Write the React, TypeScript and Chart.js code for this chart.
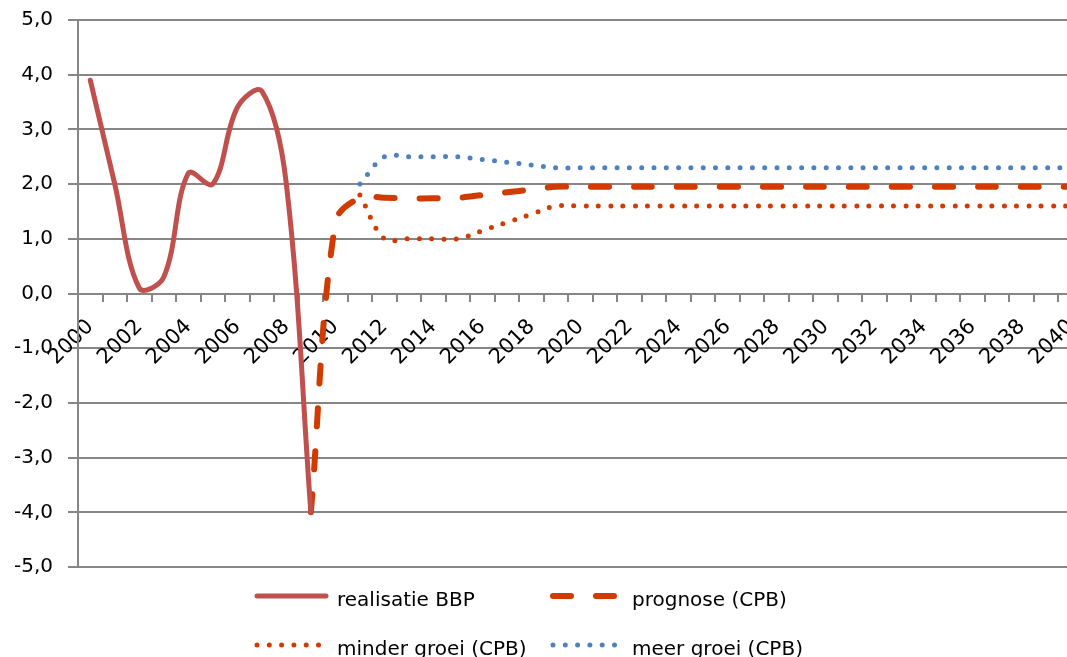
import { useEffect, useRef } from 'react';
import { Chart, registerables } from 'chart.js';

Chart.register(...registerables);

const years = [
  '2000', '2001', '2002', '2003', '2004', '2005', '2006', '2007', '2008', '2009',
  '2010', '2011', '2012', '2013', '2014', '2015', '2016', '2017', '2018', '2019',
  '2020', '2021', '2022', '2023', '2024', '2025', '2026', '2027', '2028', '2029',
  '2030', '2031', '2032', '2033', '2034', '2035', '2036', '2037', '2038', '2039', '2040',
];

const realisatieBBP = [
  3.9, 2.0, 0.1, 0.3, 2.2, 2.0, 3.4, 3.7, 2.0, -4.0,
  null, null, null, null, null, null, null, null, null, null,
  null, null, null, null, null, null, null, null, null, null,
  null, null, null, null, null, null, null, null, null, null, null,
];

const prognoseCPB = [
  null, null, null, null, null, null, null, null, null, -4.0,
  1.3, 1.75, 1.75, 1.74, 1.74, 1.75, 1.8, 1.85, 1.9, 1.95,
  1.95, 1.95, 1.95, 1.95, 1.95, 1.95, 1.95, 1.95, 1.95, 1.95,
  1.95, 1.95, 1.95, 1.95, 1.95, 1.95, 1.95, 1.95, 1.95, 1.95, 1.95,
];

const minderGroeiCPB = [
  null, null, null, null, null, null, null, null, null, null,
  null, 1.8, 1.0, 1.0, 1.0, 1.0, 1.15, 1.3, 1.45, 1.6,
  1.6, 1.6, 1.6, 1.6, 1.6, 1.6, 1.6, 1.6, 1.6, 1.6,
  1.6, 1.6, 1.6, 1.6, 1.6, 1.6, 1.6, 1.6, 1.6, 1.6, 1.6,
];

const meerGroeiCPB = [
  null, null, null, null, null, null, null, null, null, null,
  null, 2.0, 2.5, 2.5, 2.5, 2.5, 2.45, 2.4, 2.35, 2.3,
  2.3, 2.3, 2.3, 2.3, 2.3, 2.3, 2.3, 2.3, 2.3, 2.3,
  2.3, 2.3, 2.3, 2.3, 2.3, 2.3, 2.3, 2.3, 2.3, 2.3, 2.3,
];

const seriesNames = ['realisatie BBP', 'prognose (CPB)', 'minder groei (CPB)', 'meer groei (CPB)'];

const GRID = '#868686';
const FONT = 'DejaVu Sans';

const gridLegend = {
  id: 'gridLegend',
  afterDraw(chart: any) {
    const ctx = chart.ctx;
    const datasets = chart.data.datasets;
    const sampleStart = [257, 553];
    const sampleEnd = [326, 616];
    const textX = [337, 632];
    const lineY = [596, 645];
    const baseY = [606, 655];
    ctx.save();
    datasets.forEach((ds: any, i: number) => {
      const col = i % 2;
      const row = Math.floor(i / 2);
      ctx.beginPath();
      ctx.strokeStyle = ds.borderColor;
      ctx.lineWidth = ds.borderWidth;
      ctx.lineCap = 'round';
      ctx.setLineDash(ds.borderDash || []);
      ctx.lineDashOffset = 0;
      ctx.moveTo(sampleStart[col], lineY[row]);
      ctx.lineTo(sampleEnd[col], lineY[row]);
      ctx.stroke();
      ctx.setLineDash([]);
      ctx.fillStyle = '#000';
      ctx.font = `20px "${FONT}"`;
      ctx.textAlign = 'left';
      ctx.textBaseline = 'alphabetic';
      ctx.fillText(ds.label, textX[col], baseY[row]);
    });
    ctx.restore();
  },
};

export default function App() {
  const ref = useRef<HTMLCanvasElement | null>(null);

  useEffect(() => {
    if (!ref.current) return;
    const chart = new Chart(ref.current, {
      type: 'line',
      data: {
        labels: years,
        datasets: [
          {
            label: seriesNames[0],
            data: realisatieBBP,
            borderColor: '#C0504D',
            borderWidth: 5,
            borderCapStyle: 'round',
            borderJoinStyle: 'round',
            tension: 0.36,
            pointRadius: 0,
            fill: false,
          },
          {
            label: seriesNames[1],
            data: prognoseCPB,
            borderColor: '#D13B00',
            borderWidth: 6,
            borderDash: [18, 25],
            borderCapStyle: 'round',
            tension: 0.36,
            pointRadius: 0,
            fill: false,
          },
          {
            label: seriesNames[2],
            data: minderGroeiCPB,
            borderColor: '#D13B00',
            borderWidth: 5,
            borderDash: [0, 12.3],
            borderCapStyle: 'round',
            tension: 0.36,
            pointRadius: 0,
            fill: false,
          },
          {
            label: seriesNames[3],
            data: meerGroeiCPB,
            borderColor: '#4F81BD',
            borderWidth: 5,
            borderDash: [0, 12.3],
            borderCapStyle: 'round',
            tension: 0.36,
            pointRadius: 0,
            fill: false,
          },
        ],
      },
      options: {
        responsive: false,
        animation: false,
        devicePixelRatio: 1,
        layout: { padding: { top: 20, bottom: 90, left: 0, right: 0 } },
        plugins: {
          legend: { display: false },
          tooltip: { enabled: false },
        },
        scales: {
          x: {
            type: 'category',
            position: { y: 0 } as any,
            offset: true,
            grid: {
              offset: true,
              drawOnChartArea: false,
              drawTicks: true,
              tickLength: 7,
              color: GRID,
              lineWidth: 2,
            },
            border: { display: true, color: GRID, width: 2 },
            ticks: {
              autoSkip: false,
              minRotation: 45,
              maxRotation: 45,
              padding: 14,
              color: '#000',
              font: { family: FONT, size: 21 },
              callback: function (this: any, value: any, index: number) {
                return index % 2 === 0 ? years[index] : '';
              },
            },
            afterFit: (scale: any) => {
              scale.height = 0;
              scale.paddingLeft = 0;
              scale.paddingRight = 0;
            },
          },
          y: {
            min: -5,
            max: 5,
            grid: {
              color: GRID,
              lineWidth: 2,
              tickLength: 10,
              drawTicks: true,
            },
            border: { display: true, color: GRID, width: 2 },
            ticks: {
              stepSize: 1,
              padding: 15,
              color: '#000',
              font: { family: FONT, size: 20 },
              callback: (v: any) => Number(v).toFixed(1).replace('.', ','),
            },
            afterFit: (scale: any) => {
              scale.width = 78;
              scale.paddingTop = 0;
              scale.paddingBottom = 0;
            },
          },
        },
      },
      plugins: [gridLegend],
    });
    return () => chart.destroy();
  }, []);

  return (
    <div
      style={{
        position: 'fixed',
        left: 0,
        top: 0,
        width: 1067,
        height: 657,
        overflow: 'hidden',
        background: '#fff',
      }}
    >
      <canvas ref={ref} width={1083} height={657} style={{ display: 'block' }} />
    </div>
  );
}
